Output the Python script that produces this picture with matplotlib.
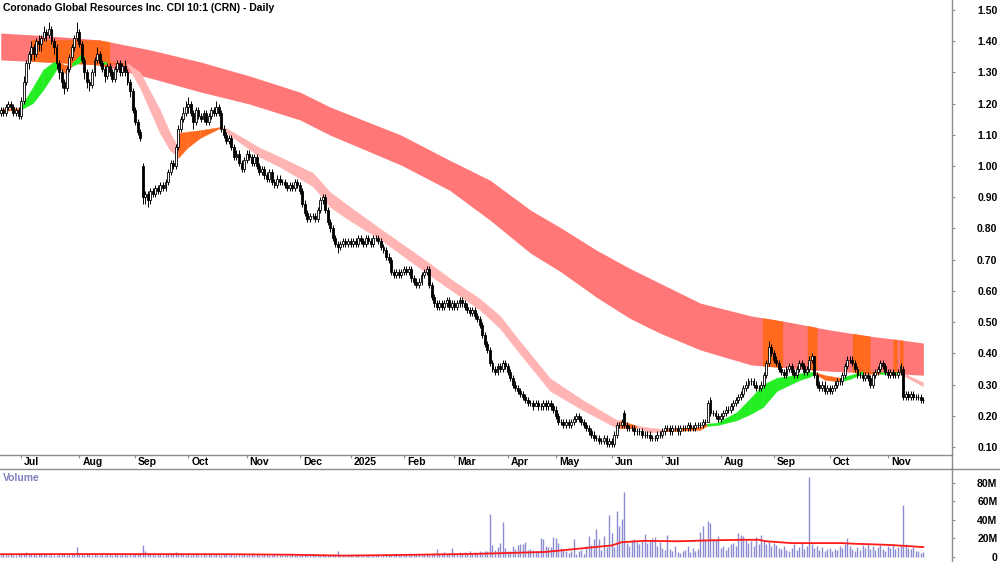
import numpy as np
import pandas as pd
import matplotlib
matplotlib.use("Agg")
import matplotlib.pyplot as plt
from matplotlib.lines import Line2D

plt.rcParams['font.family'] = ['Liberation Sans', 'DejaVu Sans']

# ---- daily bars (prices in cents) ----
opn = [117,118,117,119,120,119,117,118, 116,121,127,133, 136,138,136,140,
       139,141,143,142,144,140,138,133, 130,127,125,131, 135,138,141,143,
       139,134,130,127, 126,130,134,136, 133,131,129,132,130,128,131,133,
       130,132,130,127, 124,118,114,111, 100, 90,91,89,92,91,93,92,
       94,93,95,98, 101,100,106, 112,115,117,119, 120,117,114,118,
       116,115,117,114,116,118,117,119, 117,112,110,108,
       109,106,103,104,101,99,102,104, 103,101,103,100,98,99,97,96,98,95,94,96,
       95,95,94,93, 94,93,95,94, 92,88,85,83, 84,84,83,86, 89,90,86,82,
       80,77,75,74,75,76,75, 76,75,76,75,77,76,75,77,76,75,77,
       77,76,74,73,71, 70,66,65,66, 65,66,67,66, 67,64,63,62,63,65,66,
       67,62,58,56, 55,56,55,56,57,55,56,55,56,57,56,55, 54,53,54,52,
       51,49,46,43,41, 37,35,34,36,35,37,36, 34,32,30,29,
       28,27,26,25,24,24,23,24, 23,23,24,23, 24,23,22, 20,18,18,17,18,
       17,18,19,20, 19,18,17,16,15,14,13,13, 12,12,13,11, 12,11,14,
       17,17,21,17, 16,16,16,15,15,15,14,14,14,13, 13,13,14,14,15,
       16,16,15,16,16,15,16,16,16,17,16,16,17, 17,17,18, 18,25,
       21,21,20,19,20,21, 22,22,23,24,25,26, 27,29,30,31,31,30, 29,29,
       30,33, 37, 42,40,38,37,35, 34,33,35,36,34,33,35,37, 36,34, 35,38,
       39,33, 30,29,30,28,29,28, 29,30,31, 31,33,36, 38,38,37,35,
       33,33,32, 33,32,30,33, 34,35,37,36, 34,33,34,33, 33,34, 35,
       26,27,26,27,26,26,26,25]
high = [119,119,120,121,121,120,119,119, 122,129,134,137, 140,139,141,142,
        142,145,144,146,145,141,139,134, 131,128,132,136, 139,142,146,144,
        140,135,131,128, 131,135,138,137, 134,132,133,133,131,132,134,134,
        133,134,131,128, 125,119,115,112, 101, 92,92,93,93,94,94,95,
        95,96,99,102, 102,107,113, 116,119,121,122, 121,118,119,119,
        117,118,118,117,119,119,121,120, 118,113,111,110,
        110,107,105,105,102,103,105,105, 104,104,104,101,100,100,98,99,99,96,97,97,
        96,96,95,95, 95,96,96,95, 93,89,86,85, 85,85,87,90, 91,91,87,83,
        81,78,76,76,77,77,77, 77,77,77,78,78,77,78,78,77,78,78,
        78,77,75,74,72, 71,67,67,67, 67,68,68,68, 68,65,64,64,66,67,68,
        68,63,59,57, 57,57,57,58,58,57,57,57,58,58,57,56, 55,55,55,53,
        52,50,47,44,42, 38,36,37,37,38,38,37, 35,33,31,30,
        29,28,27,26,25,25,25,25, 24,25,25,25, 25,24,23, 21,19,19,19,19,
        19,20,21,21, 20,19,18,17,16,15,14,14, 13,14,14,13, 13,15,18,
        18,19,22,18, 17,17,17,16,16,16,15,15,15,14, 14,15,15,16,17,
        17,17,17,17,17,17,17,17,18,18,17,18,18, 18,19,19, 25,26,
        22,22,21,21,22,23, 23,24,25,26,27,28, 30,31,32,32,32,31, 30,31,
        34,38, 44, 43,41,39,38,36, 35,36,37,37,35,36,38,38, 37,36, 39,40,
        39,34, 31,31,31,30,30,30, 31,32,32, 34,37,39, 39,39,38,36,
        34,34,34, 34,33,34,35, 36,38,38,37, 35,35,35,34, 35,37, 36,
        28,28,28,28,27,27,27,26]
low = [116,116,116,118,118,116,116,115, 115,120,126,131, 134,134,135,137,
       137,140,140,141,139,136,131,128, 125,123,124,130, 134,137,140,138,
       133,128,125,124, 125,129,133,132, 130,127,128,129,127,127,130,129,
       129,129,126,122, 117,113,110,108, 88, 88,87,88,90,90,91,91,
       92,92,94,97, 99,99,105, 111,114,116,117, 116,112,113,115,
       114,114,113,113,115,116,116,116, 111,109,107,107,
       105,102,102,100,98,98,101,102, 100,100,99,97,97,96,95,95,94,93,93,94,
       94,93,92,92, 92,92,93,91, 87,84,82,82, 83,82,82,85, 88,85,81,79,
       76,74,72,73,74,74,74, 74,74,74,74,75,74,74,75,74,74,76,
       75,73,72,70,69, 65,64,64,64, 64,65,65,65, 63,62,61,61,62,64,65,
       61,57,55,54, 54,54,54,55,54,54,54,54,55,55,54,53, 52,52,51,50,
       48,45,42,40,36, 34,33,33,34,34,35,33, 31,29,28,27,
       26,25,24,23,23,22,23,22, 22,22,22,22, 22,21,19, 17,17,16,16,16,
       16,17,18,18, 17,16,15,14,13,12,12,11, 11,11,10,10, 10,10,13,
       16,16,16,15, 15,15,14,14,14,13,13,13,12,12, 12,12,13,13,14,
       15,14,14,15,14,14,15,15,15,15,15,15,16, 16,16,17, 18,20,
       20,19,18,18,19,20, 21,21,22,23,24,25, 26,28,29,30,29,28, 28,28,
       29,32, 36, 39,37,36,34,33, 32,32,34,33,32,32,34,35, 33,33, 34,37,
       32,29, 28,28,27,27,27,27, 28,29,30, 30,32,35, 37,36,34,32,
       32,31,31, 31,29,29,32, 33,34,35,33, 32,32,32,32, 32,33, 25,
       25,25,25,25,25,25,24,24]
close = [118,117,119,120,119,117,118,116, 121,127,133,136, 138,136,140,139,
         141,143,142,144,140,138,133,130, 127,125,131,135, 138,141,143,139,
         134,130,127,126, 130,134,136,133, 131,129,132,130,128,131,133,130,
         132,130,127,124, 118,114,111,109, 90, 91,89,92,91,93,92,94,
         93,95,98,101, 100,106,112, 115,117,119,120, 117,114,118,116,
         115,117,114,116,118,117,119,117, 112,110,108,109,
         106,103,104,101,99,102,104,103, 101,103,100,98,99,97,96,98,95,94,96,95,
         95,94,93,94, 93,95,94,92, 88,85,83,84, 84,83,86,89, 90,86,82,80,
         77,75,74,75,76,75,76, 75,76,75,77,76,75,77,76,75,77,77,
         76,74,73,71,70, 66,65,66,65, 66,67,66,67, 64,63,62,63,65,66,67,
         62,58,56,55, 56,55,56,57,55,56,55,56,57,56,55,54, 53,54,52,51,
         49,46,43,41,37, 35,34,36,35,37,36,34, 32,30,29,28,
         27,26,25,24,24,23,24,23, 23,24,23,24, 23,22,20, 18,18,17,18,17,
         18,19,20,19, 18,17,16,15,14,13,13,12, 12,13,11,12, 11,14,17,
         17,18,17,16, 16,16,15,15,15,14,14,14,13,13, 13,14,14,15,16,
         16,15,16,16,15,16,16,16,17,16,16,17,17, 17,18,18, 24,21,
         21,20,19,20,21,22, 22,23,24,25,26,27, 29,30,31,31,30,29, 29,30,
         33,37, 42, 40,38,37,35,34, 33,35,36,34,33,35,37,36, 34,35, 38,39,
         33,30, 29,30,28,29,28,29, 30,31,31, 33,36,38, 38,37,35,33,
         33,32,33, 32,30,33,34, 35,37,36,34, 33,34,33,33, 34,36, 26,
         27,26,27,26,26,26,25,25]
# volume in millions
vol = [2,3,2,2,3,2,2,3,3,4,5,4,3,3,2,3,4,3,3,2,3,2,2,3,4,3,2,3,4,3, 11,
       4,3,2,3,3,2,3,2,2,3,2,3,3,2,4,3,2,3,3,2,3,4,3,3,4, 13,
       6,4,3,3,2,3,3,
       2,3,3,4,4,5,4,3,3,2,3,2,3,3,2,2,3,2,3,3,2,3,2,2,3,3,2,3,2,2,3,2,3,2,2,3,
       2,3,2,2,3,2,2,2,3,2,2,3,2,2,2,3,2,2,2,2,3,2,2,3,2,2,2,3,2,2,2,3,2, 7,
       2,2,1,2,2,1,2,2,1,2,2,2,1,2,2,2,1,2,3,2,2,2,3,2,2,3,2,2,3,2,3,3,2,3,3,2,3,4, 9,
       4,3,5,3,4, 10, 4,3,5,4,5,3,6,4,5,4,6,5,7,6,
       46,13,8,11,15,38,10,6,7,12,9,13,14,14,16,8,9,8,7,7,21,19,12,11,11,22,20,15,
       10,8,6,4,6,19,3,6,8,3,12,23,13,19,30,19,8,23,11,45,26,11,50,34,41,70,
       15,12,18,19,16,14,17,25,15,18,21,22,12,16,10,8,24,9,6,12,5,4,6,8,12,5,10,7,9,
       27,34,19,39,37,19,18,23,10,12, 8,11,14,15,12,
       26,24,23,18,15,17,12,22,14,24,
       17,14,16,12,15,13,10,9,12,8,6,10,14,8,11,15,9,12, 86,
       14,10,12,8,11,7,9,10,6,9,8,12,10,14, 20,
       12,9,7,11,8,13,10,15,9,12,8,11,13,9,7,12,10,14,9,11,13, 56,
       14,10,9,11,7,6,4,5]

# volume moving average (knots: bar index, millions)
vma_idx = [0, 30, 90, 114, 135, 152, 178, 189, 202, 215, 228, 241, 245, 254,
           267, 280, 293, 299, 302, 312, 323, 332, 337, 345, 351, 364]
vma_val = [3.0, 3.2, 3.0, 2.5, 1.5, 2.0, 3.0, 3.5, 4.5, 5.5, 9.0, 12.5, 16, 17.5,
           17, 18, 18.6, 18.6, 17, 15, 15, 15, 14.3, 13.6, 13, 10.7]

# long-term band (knots: bar index, upper, lower)
lt_idx = [0, 19, 39, 59, 79, 98, 118, 130, 158, 177, 193, 209, 221, 235, 248,
          260, 276, 296, 311, 327, 343, 355, 364]
lt_hi = [1.426, 1.417, 1.404, 1.372, 1.333, 1.289, 1.237, 1.189, 1.099, 1.019,
         0.955, 0.859, 0.802, 0.731, 0.673, 0.625, 0.561, 0.520, 0.500, 0.475,
         0.455, 0.443, 0.433]
lt_lo = [1.340, 1.333, 1.324, 1.282, 1.237, 1.199, 1.148, 1.099, 1.003, 0.923,
         0.827, 0.721, 0.661, 0.580, 0.513, 0.465, 0.411, 0.363, 0.353, 0.343,
         0.337, 0.334, 0.330]
# spans where price traded into the long-term band (start, end, cap)
hot_start = [12, 300.5, 318.2, 336, 352, 354.6]
hot_end = [43, 308.5, 322, 343, 353.6, 356]
hot_cap = [1.405, None, None, None, None, None]

# short-term ribbon (knots: bar index, upper, lower, colour of next segment)
sb_idx = [0, 7.6, 12.7, 16.7, 20.6, 22.6, 25.4, 28.1, 31.3, 33.2,
          37.2, 40.3, 41.9, 49.8, 55, 62.8, 66.8, 70, 70, 73.5,
          78.6, 86.5, 89.3, 102.3, 110.2, 123.2, 129.9, 137.8, 149.6, 169.3,
          177.2, 189, 197, 203.7, 216.7, 229.7, 243.1, 244.3, 251, 256.1,
          262, 275.9, 278.6, 282.6, 290.4, 295.6, 300.7, 306.2, 311.4, 315.3,
          319.2, 321.2, 325.2, 331.1, 335, 340.1, 346.9, 354.7, 355.9, 363.8]
sb_hi = [1.183, 1.186, 1.253, 1.308, 1.333, 1.333, 1.324, 1.330, 1.356, 1.350,
         1.345, 1.335, 1.333, 1.330, 1.300, 1.180, 1.106, 1.060, 1.106, 1.110,
         1.115, 1.125, 1.120, 1.058, 1.029, 0.978, 0.917, 0.869, 0.800, 0.688,
         0.640, 0.575, 0.520, 0.450, 0.320, 0.250, 0.186, 0.186, 0.168, 0.162,
         0.157, 0.165, 0.175, 0.178, 0.212, 0.255, 0.300, 0.322, 0.328, 0.336,
         0.340, 0.340, 0.330, 0.322, 0.330, 0.343, 0.340, 0.340, 0.337, 0.308]
sb_lo = [1.177, 1.180, 1.202, 1.244, 1.292, 1.318, 1.298, 1.320, 1.333, 1.345,
         1.325, 1.327, 1.328, 1.325, 1.250, 1.106, 1.050, 1.030, 1.026, 1.058,
         1.090, 1.122, 1.105, 1.029, 0.997, 0.935, 0.869, 0.825, 0.766, 0.650,
         0.605, 0.540, 0.480, 0.410, 0.280, 0.218, 0.161, 0.160, 0.163, 0.146,
         0.150, 0.155, 0.168, 0.170, 0.186, 0.205, 0.228, 0.280, 0.300, 0.315,
         0.325, 0.335, 0.315, 0.310, 0.318, 0.335, 0.334, 0.335, 0.330, 0.295]
sb_col = list('OGGGGOOGGO' 'OGOPPPPPOO' 'OPPPPPPPPP' 'PPPPPPPOPP' 'OOGGGGGGGG' 'GOOGGOGPP-')

holidays = ['2024-12-25', '2024-12-26', '2025-01-01', '2025-01-27',
            '2025-04-18', '2025-04-21', '2025-04-25', '2025-06-09']

n = len(close)
assert len(opn) == n and len(high) == n and len(low) == n and len(vol) == n, \
    (len(opn), len(high), len(low), len(close), len(vol))

dates = pd.bdate_range('2024-06-19', periods=n, freq='C', holidays=holidays)
o = np.array(opn) / 100
h = np.array(high) / 100
l = np.array(low) / 100
c = np.array(close) / 100
x = np.arange(n)

colors = {'O': '#FF6A1F', 'G': '#22EE22', 'P': '#FFB3B3'}
grey = '#8C8C8C'

fig = plt.figure(figsize=(10, 5.62), dpi=100)
ax = fig.add_axes([0, 107 / 562, 0.952, 455 / 562])
vax = fig.add_axes([0, 0, 0.952, 93 / 562])

# long-term band
ax.fill_between(lt_idx, lt_lo, lt_hi, color='#FF7777', lw=0, zorder=1)
for s, e, cap in zip(hot_start, hot_end, hot_cap):
    xs = np.r_[s, [k for k in lt_idx if s < k < e], e]
    hi = np.interp(xs, lt_idx, lt_hi)
    lo = np.interp(xs, lt_idx, lt_lo)
    if cap is not None:
        hi = np.minimum(hi, cap)
    ax.fill_between(xs, lo, hi, color=colors['O'], lw=0, zorder=1.5)

# short-term ribbon, one segment at a time
for k in range(len(sb_idx) - 1):
    if sb_idx[k + 1] <= sb_idx[k]:
        continue
    col = colors[sb_col[k]]
    ax.fill_between(sb_idx[k:k + 2], sb_lo[k:k + 2], sb_hi[k:k + 2],
                    color=col, ec=col, lw=0.3, zorder=2)

# candles
ax.vlines(x, l, h, color='black', lw=0.7, zorder=3)
up = c >= o
ax.bar(x[up], c[up] - o[up], bottom=o[up], width=0.75, color='white',
       edgecolor='black', linewidth=0.6, zorder=4)
ax.bar(x[~up], o[~up] - c[~up], bottom=c[~up], width=0.75, color='black',
       edgecolor='black', linewidth=0.6, zorder=4)

xlim = (-0.3, 375.3)
ax.set_xlim(*xlim)
ax.set_ylim(0.0744, 1.532)

# month ticks
mstart = [i for i in range(1, n) if dates[i].month != dates[i - 1].month]
mlabels = [dates[i].strftime('%Y') if dates[i].month == 1 else dates[i].strftime('%b')
           for i in mstart]
ax.set_xticks(mstart)
ax.tick_params(axis='x', direction='out', length=2.5, color=grey, labelbottom=False)
for i, lab in zip(mstart, mlabels):
    ax.annotate(lab, xy=(i, 0), xycoords=('data', 'axes fraction'), xytext=(3, -7),
                textcoords='offset pixels', ha='left', va='center',
                fontsize=7.5, fontweight='bold', annotation_clip=False)

ax.yaxis.tick_right()
ticks = np.round(np.arange(0.1, 1.501, 0.1), 2)
ax.set_yticks(ticks)
ax.set_yticklabels(['%.2f' % t for t in ticks], fontsize=7.5, fontweight='bold', ha='right')
ax.tick_params(axis='y', direction='out', length=2.2, color=grey, pad=30.5)

for sp in ['top', 'left']:
    ax.spines[sp].set_visible(False)
for sp in ['bottom', 'right']:
    ax.spines[sp].set_color(grey)
    ax.spines[sp].set_linewidth(1)

# volume panel
vax.vlines(x, 0, vol, color='#8C8CD2', lw=1.0, zorder=2)
vax.plot(vma_idx, vma_val, color='#FF1A1A', lw=1.3, zorder=3)
vax.set_xlim(*xlim)
vax.set_ylim(-5.4, 95.1)
vax.set_xticks([])
vax.yaxis.tick_right()
vt = [0, 20, 40, 60, 80]
vax.set_yticks(vt)
vax.set_yticklabels(['0'] + ['%dM' % v for v in vt[1:]], fontsize=7.5,
                    fontweight='bold', ha='right')
vax.tick_params(axis='y', direction='out', length=2.2, color=grey, pad=30.5)
for sp in ['bottom', 'left']:
    vax.spines[sp].set_visible(False)
for sp in ['top', 'right']:
    vax.spines[sp].set_color(grey)
    vax.spines[sp].set_linewidth(1)
vax.text(0.003, 0.955, 'Volume', transform=vax.transAxes, va='top', ha='left',
         color='#8080C0', fontsize=7.5, fontweight='bold')

fig.add_artist(Line2D([0.952, 1], [93 / 562, 93 / 562], color=grey, lw=1))
fig.add_artist(Line2D([0.952, 0.952], [93 / 562, 107 / 562], color=grey, lw=1))

fig.text(0.003, 1 - 3 / 562, 'Coronado Global Resources Inc. CDI 10:1 (CRN) - Daily',
         va='top', ha='left', fontsize=7.5, fontweight='bold')

fig.savefig('out.png', dpi=100)
